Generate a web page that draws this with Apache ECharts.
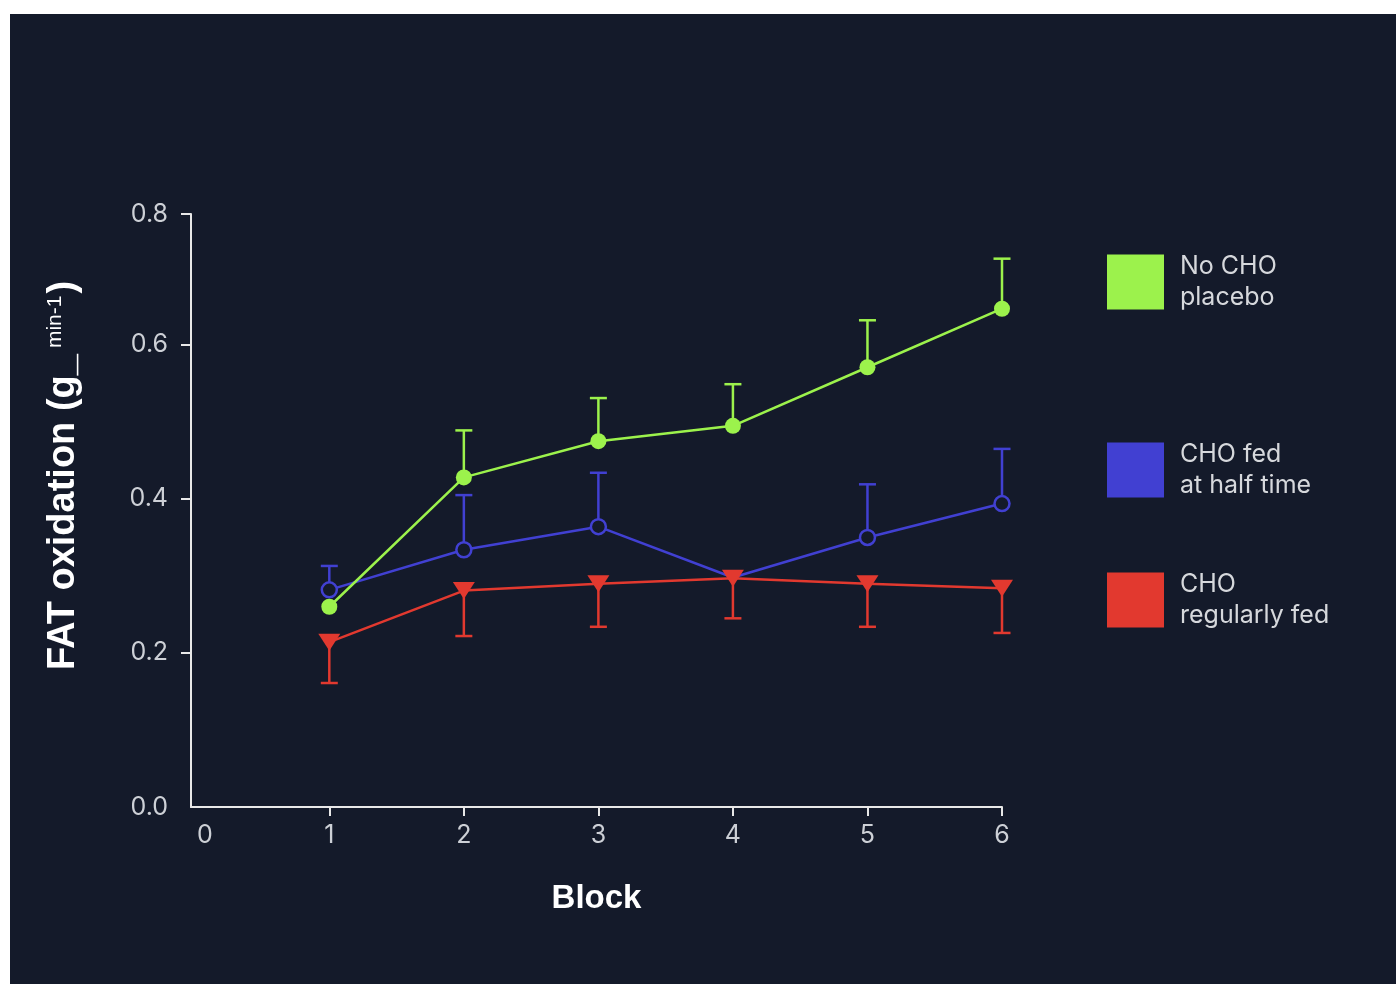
<!DOCTYPE html>
<html>
<head>
<meta charset="utf-8">
<title>FAT oxidation</title>
<script src="https://cdn.jsdelivr.net/npm/echarts@6/dist/echarts.min.js"></script>
<style>
  html, body { margin: 0; padding: 0; background: #ffffff; }
  #chart { position: absolute; left: 10px; top: 14px; width: 1386px; height: 970px; }
</style>
</head>
<body>
<div id="chart"></div>
<script>
// blocks on the x axis
var blocks = [1, 2, 3, 4, 5, 6];
var xLabelValues = [0, 1, 2, 3, 4, 5, 6];
// y axis labels (top label sits a bit low in the original, shown as 0.8)
var yLabelValues = [0, 0.2, 0.4, 0.6, 0.77];

// No CHO placebo
var placeboMean = [0.260, 0.428, 0.475, 0.495, 0.571, 0.647];
var placeboUpper = [null, 0.489, 0.531, 0.549, 0.632, 0.712];
// CHO fed at half time
var halfMean = [0.282, 0.334, 0.364, 0.298, 0.350, 0.394];
var halfUpper = [0.313, 0.405, 0.434, null, 0.419, 0.465];
// CHO regularly fed
var regularMean = [0.214, 0.281, 0.290, 0.297, 0.290, 0.284];
var regularLower = [0.161, 0.222, 0.234, 0.245, 0.234, 0.226];

var names = ['No CHO\nplacebo', 'CHO fed\nat half time', 'CHO\nregularly fed'];
var colors = ['#9cf24c', '#4140d2', '#e2392f'];
var bg = '#141a2a';

var chart = echarts.init(document.getElementById('chart'));

function pairs(vals) {
  return blocks.map(function(b, i) { return [b, vals[i]]; });
}
function errData(mean, bound) {
  return blocks.map(function(b, i) { return [b, mean[i], bound[i] == null ? '-' : bound[i]]; });
}
//误差线
function errorBarItem(params, api) {
  var bound = api.value(2);
  if (bound == null || isNaN(bound)) return;
  var p0 = api.coord([api.value(0), api.value(1)]);
  var p1 = api.coord([api.value(0), bound]);
  var style = { stroke: api.visual('color'), lineWidth: 2.5 };
  return {
    type: 'group',
    children: [
      { type: 'line', shape: { x1: p0[0], y1: p0[1], x2: p1[0], y2: p1[1] }, style: style },
      { type: 'line', shape: { x1: p1[0] - 8.5, y1: p1[1], x2: p1[0] + 8.5, y2: p1[1] }, style: style }
    ]
  };
}
function legendAt(idx, top) {
  return {
    left: 1092,
    top: top,
    orient: 'vertical',
    icon: 'rect',
    itemWidth: 57,
    itemHeight: 55,
    selectedMode: false,
    data: [{ name: names[idx], itemStyle: { color: colors[idx], borderWidth: 0 } }],
    textStyle: { color: '#d6d8dc', fontSize: 25, lineHeight: 31, fontFamily: 'Inter', padding: [0, 0, 0, 11] }
  };
}

var labelFont = { color: '#cdd0d6', fontSize: 25, fontFamily: 'Inter' };

// blue point at block 4 sits behind the red triangle, its marker is not seen
var halfPoints = pairs(halfMean).map(function(p, i) {
  return blocks[i] === 4 ? { value: p, symbolSize: 0 } : p;
});

var option = {
  backgroundColor: bg,
  animation: false,
  grid: { left: 181, right: 394, top: 200, bottom: 177 },
  legend: [legendAt(0, 232), legendAt(1, 420), legendAt(2, 550)],
  xAxis: {
    type: 'value',
    min: -0.028,
    max: 6,
    name: 'Block',
    nameLocation: 'middle',
    nameGap: 75,
    nameTextStyle: { color: '#ffffff', fontSize: 33, fontWeight: 'bold', fontFamily: 'Liberation Sans' },
    axisLine: { show: true, onZero: false, lineStyle: { color: '#e8e8e8', width: 2 } },
    axisTick: { show: true, length: 9, customValues: blocks, lineStyle: { color: '#e8e8e8', width: 2 } },
    axisLabel: {
      customValues: xLabelValues,
      margin: 16,
      color: labelFont.color,
      fontSize: labelFont.fontSize,
      fontFamily: labelFont.fontFamily,
      formatter: function(v) { return v === 0 ? '{z|0}' : String(v); },
      rich: { z: { color: labelFont.color, fontSize: 25, fontFamily: 'Inter', padding: [0, 0, 0, 20] } }
    },
    splitLine: { show: false }
  },
  yAxis: {
    type: 'value',
    min: 0,
    max: 0.77,
    name: '{a|FAT oxidation (g_}{b|min-1}{a|)}',
    nameLocation: 'middle',
    nameGap: 108,
    nameTextStyle: {
      padding: [0, 0, 0, 70],
      rich: {
        a: { color: '#ffffff', fontSize: 38, fontWeight: 'bold', fontFamily: 'Liberation Sans' },
        b: { color: '#ffffff', fontSize: 21, fontFamily: 'Liberation Sans', verticalAlign: 'top', padding: [0, 2, 0, 6] }
      }
    },
    axisLine: { show: true, onZero: false, lineStyle: { color: '#e8e8e8', width: 2 } },
    axisTick: { show: true, length: 10, customValues: [0.2, 0.4, 0.6, 0.77], lineStyle: { color: '#e8e8e8', width: 2 } },
    axisLabel: {
      customValues: yLabelValues,
      margin: 23,
      color: labelFont.color,
      fontSize: labelFont.fontSize,
      fontFamily: labelFont.fontFamily,
      formatter: function(v) { return v.toFixed(1); }
    },
    splitLine: { show: false }
  },
  series: [
    {
      name: 'half err', type: 'custom', renderItem: errorBarItem, z: 1,
      itemStyle: { color: colors[1] }, encode: { x: 0, y: [1, 2] }, data: errData(halfMean, halfUpper)
    },
    {
      name: 'regular err', type: 'custom', renderItem: errorBarItem, z: 1,
      itemStyle: { color: colors[2] }, encode: { x: 0, y: [1, 2] }, data: errData(regularMean, regularLower)
    },
    {
      name: 'placebo err', type: 'custom', renderItem: errorBarItem, z: 1,
      itemStyle: { color: colors[0] }, encode: { x: 0, y: [1, 2] }, data: errData(placeboMean, placeboUpper)
    },
    {
      name: names[1], type: 'line', z: 2, data: halfPoints,
      symbol: 'circle', symbolSize: 15, showAllSymbol: true,
      lineStyle: { color: colors[1], width: 2.5 },
      itemStyle: { color: bg, borderColor: colors[1], borderWidth: 2.5 }
    },
    {
      name: names[2], type: 'line', z: 3, data: pairs(regularMean),
      symbol: 'triangle', symbolRotate: 180, symbolSize: [22, 17], showAllSymbol: true,
      lineStyle: { color: colors[2], width: 2.5 },
      itemStyle: { color: colors[2] }
    },
    {
      name: names[0], type: 'line', z: 4, data: pairs(placeboMean),
      symbol: 'circle', symbolSize: 16, showAllSymbol: true,
      lineStyle: { color: colors[0], width: 2.5 },
      itemStyle: { color: colors[0] }
    }
  ]
};

chart.setOption(option);
</script>
</body>
</html>
